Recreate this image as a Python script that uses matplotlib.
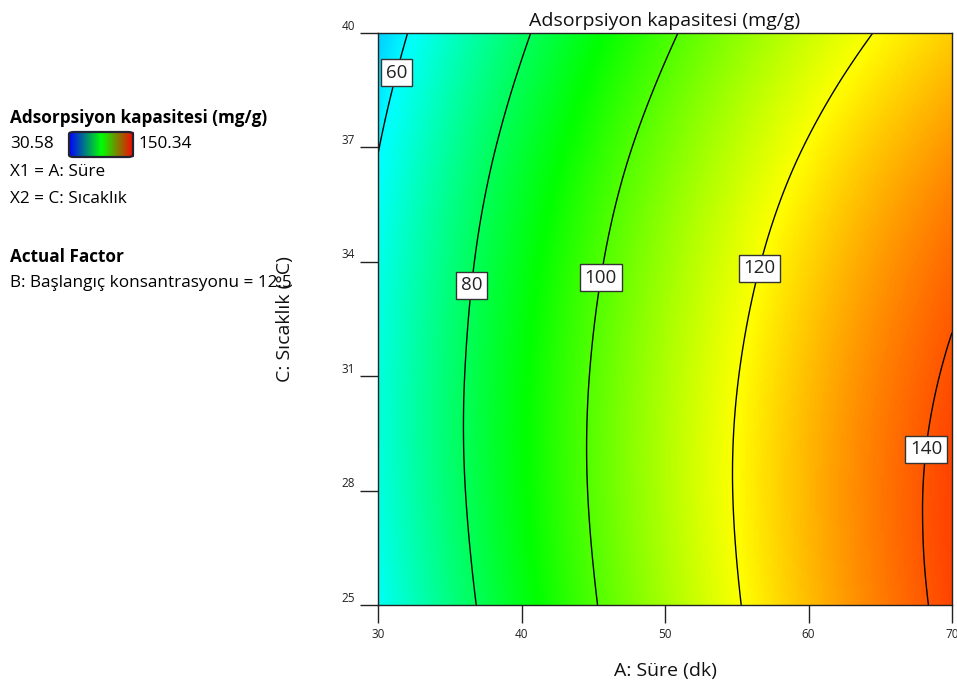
import numpy as np
import matplotlib
matplotlib.use("Agg")
import matplotlib.pyplot as plt
import matplotlib.tri as mtri
from matplotlib.colors import LinearSegmentedColormap
from matplotlib.patches import FancyBboxPatch
from matplotlib.transforms import ScaledTranslation

plt.rcParams['font.family'] = ['Open Sans', 'DejaVu Sans']

# Factor levels (A: time, C: temperature)
A_levels = [30, 35, 40, 45, 50, 55, 60, 65, 70]
C_levels = [25, 28, 31, 34, 37, 40]
# Response values (mg/g), one row per C level
Y_C25 = [61.69, 75.24, 87.79, 99.34, 109.89, 119.44, 127.99, 135.54, 142.09]
Y_C28 = [63.90, 77.22, 89.54, 100.86, 111.18, 120.50, 128.82, 136.14, 142.46]
Y_C31 = [64.31, 77.40, 89.49, 100.58, 110.67, 119.76, 127.85, 134.94, 141.03]
Y_C34 = [62.94, 75.80, 87.66, 98.52, 108.38, 117.24, 125.10, 131.96, 137.82]
Y_C37 = [59.77, 72.40, 84.03, 94.66, 104.29, 112.92, 120.55, 127.18, 132.81]
Y_C40 = [54.81, 67.21, 78.61, 89.01, 98.41, 106.81, 114.21, 120.61, 126.01]
y_min, y_max = 30.58, 150.34
contour_levels = [60, 80, 100, 120, 140]
label_pos = [(31.05, 38.98), (36.4, 33.39), (45.3, 33.6), (56.3, 33.86), (68.0, 29.09)]
x_ticks = [30, 40, 50, 60, 70]
y_ticks = [25, 28, 31, 34, 37, 40]

Z = np.array([Y_C25, Y_C28, Y_C31, Y_C34, Y_C37, Y_C40])
AA, CC = np.meshgrid(A_levels, C_levels)

cmap = LinearSegmentedColormap.from_list(
    'de', ['#0000ff', '#00ffff', '#00ff00', '#ffff00', '#ff0000'])
cmap_legend = LinearSegmentedColormap.from_list(
    'deleg', ['#0000ff', '#00ff00', '#ff0000'])

fig = plt.figure(figsize=(9.57, 6.92), dpi=100)
ax = fig.add_axes([378/957, 1-605/692, (952-378)/957, (605-33)/692])

tri = mtri.Triangulation(AA.ravel(), CC.ravel())
interp = mtri.CubicTriInterpolator(tri, Z.ravel(), kind='min_E')
refiner = mtri.UniformTriRefiner(tri)
tri_f, z_f = refiner.refine_field(Z.ravel(), triinterpolator=interp, subdiv=5)

ax.tripcolor(tri_f, z_f, shading='gouraud', cmap=cmap, vmin=y_min, vmax=y_max)
cs = ax.tricontour(tri_f, z_f, levels=contour_levels, colors='black', linewidths=1.0)
labels = ax.clabel(cs, fmt='%d', inline=False, manual=label_pos, fontsize=13.5)
for t in labels:
    t.set_rotation(0)
    t.set_color('#222222')
    t.set_bbox(dict(facecolor='white', edgecolor='#333333', pad=3.2, linewidth=1.0))
    t.set_zorder(5)

ax.set_xlim(30, 70)
ax.set_ylim(25, 40)
ax.set_xticks(x_ticks)
ax.set_yticks(y_ticks)
ax.tick_params(direction='out', length=13, width=1, labelsize=8.5, color='#222222',
               labelcolor='#222222')
for lab in ax.get_yticklabels():
    lab.set_transform(lab.get_transform() + ScaledTranslation(0, 6/72, fig.dpi_scale_trans))
for sp in ax.spines.values():
    sp.set_linewidth(1.0)
    sp.set_color('#222222')

ax.set_title('Adsorpsiyon kapasitesi (mg/g)', fontsize=14, pad=5, color='#111111')
ax.set_xlabel('A: Süre (dk)', fontsize=14, color='#111111')
ax.set_ylabel('C: Sıcaklık (°C)', fontsize=14, color='#111111')
ax.xaxis.set_label_coords(0.5, -0.1)
ax.yaxis.set_label_coords(-0.146, 0.5)

# Left legend block
fs = 12.3
fig.text(10/957, 1-118/692, 'Adsorpsiyon kapasitesi (mg/g)', fontsize=fs,
         fontweight='bold', va='center', ha='left')
fig.text(10/957, 1-144/692, f'{y_min:.2f}', fontsize=fs, va='center', ha='left')
fig.text(139/957, 1-144/692, f'{y_max:.2f}', fontsize=fs, va='center', ha='left')
cax = fig.add_axes([69/957, 1-157/692, 64/957, 25/692])
cax.imshow(np.linspace(0, 1, 256)[None, :], aspect='auto', cmap=cmap_legend,
           extent=[0, 1, 0, 1])
cax.set_xlim(0, 1); cax.set_ylim(0, 1)
cax.set_xticks([]); cax.set_yticks([])
for sp in cax.spines.values():
    sp.set_visible(False)
cax.add_patch(FancyBboxPatch((0.0, 0.0), 1.0, 1.0, boxstyle='round,pad=0,rounding_size=0.08',
                             facecolor='none', edgecolor='#222233', linewidth=1.6,
                             transform=cax.transAxes, clip_on=False))
fig.text(10/957, 1-172/692, 'X1 = A: Süre', fontsize=fs, va='center', ha='left')
fig.text(10/957, 1-199/692, 'X2 = C: Sıcaklık', fontsize=fs, va='center', ha='left')
fig.text(10/957, 1-257/692, 'Actual Factor', fontsize=fs, fontweight='bold',
         va='center', ha='left')
fig.text(10/957, 1-283/692, 'B: Başlangıç konsantrasyonu = 12.5', fontsize=fs,
         va='center', ha='left')

fig.savefig('out.png', dpi=100)
